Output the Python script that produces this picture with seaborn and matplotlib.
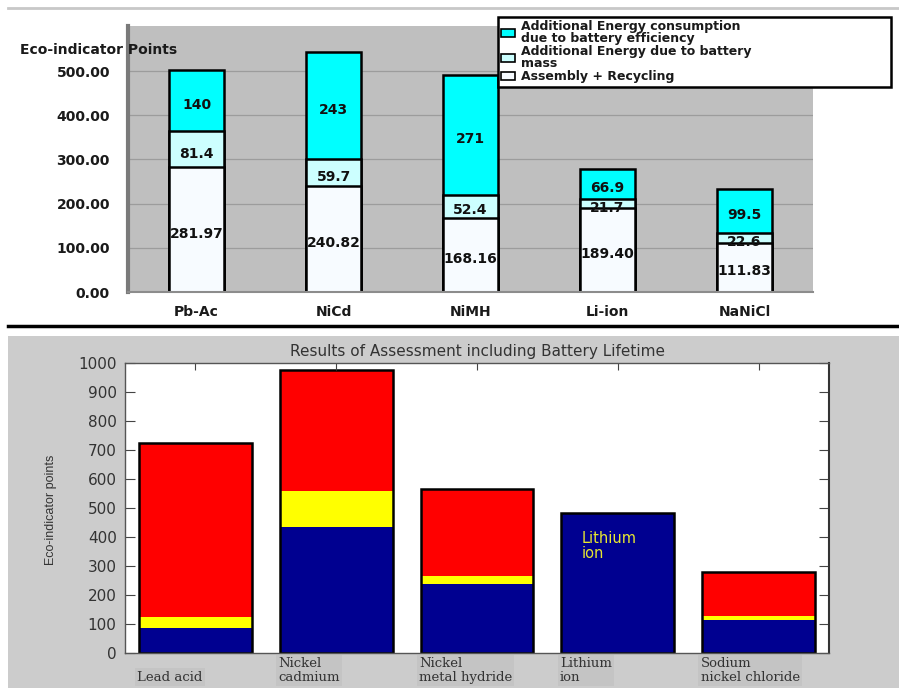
import numpy as np
import pandas as pd
import matplotlib
matplotlib.use("Agg")
import matplotlib.pyplot as plt
import seaborn as sns
from matplotlib.patches import Rectangle, Patch
from matplotlib.lines import Line2D
from matplotlib.transforms import ScaledTranslation, offset_copy

# ---- upper panel: eco-indicator points per battery type ----
top_categories = ["Pb-Ac", "NiCd", "NiMH", "Li-ion", "NaNiCl"]
assembly_recycling = [281.97, 240.82, 168.16, 189.40, 111.83]
energy_mass = [81.4, 59.7, 52.4, 21.7, 22.6]
energy_efficiency = [140, 243, 271, 66.9, 99.5]
top_series_labels = [
    "Additional Energy consumption\ndue to battery efficiency",
    "Additional Energy due to battery\nmass",
    "Assembly + Recycling",
]
top_yticks = [0, 100, 200, 300, 400, 500]

# ---- lower panel: results including battery lifetime ----
bottom_categories = ["Lead acid", "Nickel\ncadmium", "Nickel\nmetal hydride",
                     "Lithium\nion", "Sodium\nnickel chloride"]
blue_part = [85, 435, 238, 482, 113]
yellow_part = [38, 125, 28, 0, 14]
red_part = [600, 415, 300, 0, 153]
bottom_yticks = list(range(0, 1001, 100))

plt.rcParams["font.family"] = ["DejaVu Sans"]

W, H = 899, 688
fig = plt.figure(figsize=(W / 100, H / 100), dpi=100)
fig.patch.set_facecolor("white")


def fbox(x0, y0, x1, y1):
    """Pixel box (top-left origin) -> figure fraction rect."""
    return [x0 / W, 1 - y1 / H, (x1 - x0) / W, (y1 - y0) / H]


# decorative rules
fig.add_artist(Line2D([8 / W, 1], [1 - 8 / H] * 2, color="#C8C8C8", lw=2))
fig.add_artist(Line2D([8 / W, 1], [1 - 326 / H] * 2, color="black", lw=2.5))
fig.add_artist(Rectangle((8 / W, 0), (W - 8) / W, 1 - 336 / H,
                         transform=fig.transFigure, facecolor="#CCCCCC",
                         edgecolor="none", zorder=0))

# ================= upper panel =================
ax1 = fig.add_axes(fbox(128, 26, 813, 292))
top = pd.DataFrame({"cat": top_categories, "a": assembly_recycling,
                    "m": energy_mass, "e": energy_efficiency})
top["am"] = top["a"] + top["m"]
top["ame"] = top["am"] + top["e"]

top_colors = ["#00FFFF", "#CCFFFF", "#F7FBFF"]
for col, color in zip(["ame", "am", "a"], top_colors):
    sns.barplot(data=top, x="cat", y=col, color=color, saturation=1,
                width=0.40, edgecolor="black", linewidth=1.8,
                errorbar=None, ax=ax1)

ax1.set_facecolor("#BFBFBF")
ax1.set_ylim(0, 602)
ax1.set_yticks(top_yticks)
ax1.set_yticklabels([f"{v:.2f}" for v in top_yticks])
ax1.yaxis.grid(True, color="#9C9C9C", lw=0.9)
ax1.set_axisbelow(True)
ax1.set_xlabel("")
ax1.set_ylabel("")
ax1.tick_params(axis="y", length=0, pad=13, labelsize=10)
ax1.tick_params(axis="x", length=0, pad=9, labelsize=10)
for lab in ax1.get_yticklabels() + ax1.get_xticklabels():
    lab.set_fontweight("bold")
    lab.set_color("#1A1A1A")
for s in ["top", "right"]:
    ax1.spines[s].set_visible(False)
ax1.spines["left"].set_color("#7A7A7A")
ax1.spines["left"].set_linewidth(3)
ax1.spines["bottom"].set_color("#8C8C8C")
ax1.spines["bottom"].set_linewidth(1.5)

lab_tr = offset_copy(ax1.transData, fig=fig, x=0, y=-3, units="points")
for i, row in top.iterrows():
    for y, txt in [(row["a"] / 2, f"{row['a']:.2f}"),
                   (row["a"] + row["m"] / 2, f"{row['m']:g}"),
                   (row["am"] + row["e"] / 2, f"{row['e']:g}")]:
        ax1.text(i, y, txt, ha="center", va="center", fontsize=10,
                 fontweight="bold", color="#111111", transform=lab_tr)

fig.text(20 / W, 1 - 50 / H, "Eco-indicator Points", ha="left", va="center",
         fontsize=10, fontweight="bold", color="#1A1A1A")

handles = [Patch(facecolor=c, edgecolor="black", lw=1.2) for c in top_colors]
leg = ax1.legend(handles, top_series_labels, loc="upper left",
                 bbox_to_anchor=(498 / W, 1 - 88 / H, 393 / W, 71 / H),
                 bbox_transform=fig.transFigure, mode="expand",
                 frameon=True, fancybox=False, edgecolor="black",
                 framealpha=1, prop={"size": 9, "weight": "bold"},
                 handlelength=1.1, handleheight=0.6, labelspacing=0.05,
                 borderpad=0.25, handletextpad=0.5, borderaxespad=0)
leg.get_frame().set_linewidth(1.8)
for t in leg.get_texts():
    t.set_linespacing(0.85)
    t.set_color("#1A1A1A")

# ================= lower panel =================
ax2 = fig.add_axes(fbox(125, 363, 829, 653))
bot = pd.DataFrame({"cat": bottom_categories, "b": blue_part,
                    "y": yellow_part, "r": red_part})
bot["by"] = bot["b"] + bot["y"]
bot["byr"] = bot["by"] + bot["r"]

for col, color in [("byr", "#FF0000"), ("by", "#FFFF00"), ("b", "#000090")]:
    sns.barplot(data=bot, x="cat", y=col, color=color, saturation=1,
                width=0.8, linewidth=0, errorbar=None, ax=ax2)
sns.barplot(data=bot, x="cat", y="byr", color="black", fill=False,
            width=0.8, linewidth=1.8, errorbar=None, ax=ax2)

ax2.set_facecolor("white")
ax2.set_ylim(0, 1000)
ax2.set_xlim(-0.5, 4.5)
ax2.set_yticks(bottom_yticks)
ax2.set_yticklabels([str(v) for v in bottom_yticks])
ax2.tick_params(axis="y", left=True, right=True, direction="in", length=7,
                labelsize=11, labelcolor="#333333", color="#444444", pad=6)
ax2.set_xticks(range(len(bottom_categories)))
ax2.set_xticklabels(bottom_categories)
ax2.tick_params(axis="x", bottom=False, top=True, direction="in", length=5,
                color="#444444", pad=22)
shift = ScaledTranslation(-58 / 100, 0, fig.dpi_scale_trans)
for lab in ax2.get_xticklabels():
    lab.set_fontfamily("DejaVu Serif")
    lab.set_fontsize(9.5)
    lab.set_color("#333333")
    lab.set_ha("left")
    lab.set_va("bottom")
    lab.set_linespacing(1.05)
    lab.set_bbox(dict(facecolor="#C4C4C4", edgecolor="none", pad=1.5))
    lab.set_transform(lab.get_transform() + shift)
for s in ax2.spines.values():
    s.set_color("#555555")
    s.set_linewidth(1)
ax2.spines["right"].set_color("#333333")
ax2.spines["right"].set_linewidth(1.5)

ax2.set_xlabel("")
ax2.set_ylabel("Eco-indicator points", fontsize=9, color="#333333",
               family=["Liberation Sans Narrow", "Liberation Sans"])
ax2.yaxis.set_label_coords(-0.097, 0.493)
ax2.set_title("Results of Assessment including Battery Lifetime",
              fontsize=11, color="#333333", pad=5)

ax2.text(2.745, 421, "Lithium\nion", ha="left", va="top", fontsize=10.5,
         color="#E8E830", linespacing=1.0)

fig.savefig("out.png", dpi=100)
